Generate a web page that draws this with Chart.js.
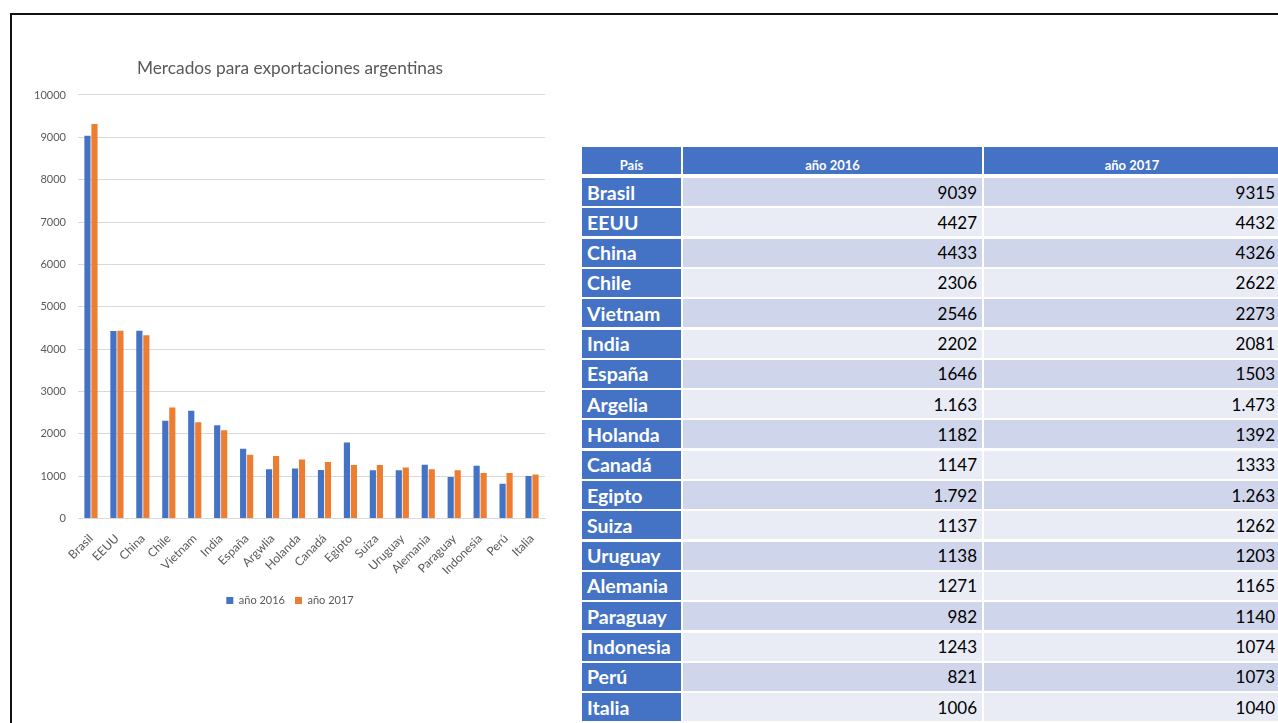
<!DOCTYPE html>
<html>
<head>
<meta charset="utf-8">
<script src="https://cdn.jsdelivr.net/npm/chart.js@4.4.1/dist/chart.umd.min.js"></script>
<style>
  html, body { margin: 0; padding: 0; background: #fff; width: 1278px; height: 723px; overflow: hidden; }
  #frame { position: absolute; left: 10px; top: 13px; width: 1400px; height: 800px;
           border-left: 2px solid #111; border-top: 2px solid #111; }
  #chartBox { position: absolute; left: 0; top: 0; width: 570px; height: 616px; }
  .cell { position: absolute; box-sizing: border-box; font-family: Lato, "Noto Sans", sans-serif;
          white-space: nowrap; overflow: hidden; }
  .hdr { background: #4472C4; color: #fff; font-weight: bold; font-size: 13px; text-align: center;
         display: flex; align-items: flex-end; justify-content: center; padding-bottom: 1px; }
  .name { background: #4472C4; color: #fff; font-weight: bold; font-size: 19.5px;
          display: flex; align-items: center; padding-left: 5px; }
  .num { color: #000; font-size: 17px; display: flex; align-items: center; justify-content: flex-end; padding-right: 5px; }
  .odd { background: #CFD5EA; }
  .even { background: #E9EBF5; }
</style>
</head>
<body>
<div id="frame"></div>
<div id="chartBox"><canvas id="c" width="570" height="616"></canvas></div>
<div id="table"></div>
<script>
// ---- data ----
const chartTitle = 'Mercados para exportaciones argentinas';
const categories = ['Brasil','EEUU','China','Chile','Vietnam','India','España','Argwlia','Holanda','Canadá','Egipto','Suiza','Uruguay','Alemania','Paraguay','Indonesia','Perú','Italia'];
const tableNames = ['Brasil','EEUU','China','Chile','Vietnam','India','España','Argelia','Holanda','Canadá','Egipto','Suiza','Uruguay','Alemania','Paraguay','Indonesia','Perú','Italia'];
const seriesNames = ['año 2016','año 2017'];
const values2016 = [9039,4427,4433,2306,2546,2202,1646,1163,1182,1147,1792,1137,1138,1271,982,1243,821,1006];
const values2017 = [9315,4432,4326,2622,2273,2081,1503,1473,1392,1333,1263,1262,1203,1165,1140,1074,1073,1040];
const text2016 = ['9039','4427','4433','2306','2546','2202','1646','1.163','1182','1147','1.792','1137','1138','1271','982','1243','821','1006'];
const text2017 = ['9315','4432','4326','2622','2273','2081','1503','1.473','1392','1333','1.263','1262','1203','1165','1140','1074','1073','1040'];
const tableHeader = ['País','año 2016','año 2017'];
const yTicks = [0,1000,2000,3000,4000,5000,6000,7000,8000,9000,10000];

// ---- table ----
(function buildTable(){
  const t = document.getElementById('table');
  const cols = [[582, 99], [683, 299], [984, 296]];
  function add(cls, x, y, w, h, txt) {
    const d = document.createElement('div');
    d.className = 'cell ' + cls;
    d.style.left = x + 'px'; d.style.top = y + 'px';
    d.style.width = w + 'px'; d.style.height = h + 'px';
    d.textContent = txt;
    t.appendChild(d);
  }
  tableHeader.forEach((h, i) => add('hdr', cols[i][0], 147, cols[i][1], 27, h));
  tableNames.forEach((n, r) => {
    const y = 178 + r * 30.3;
    const band = r % 2 === 0 ? 'odd' : 'even';
    add('name', cols[0][0], y, cols[0][1], 28, n);
    add('num ' + band, cols[1][0], y, cols[1][1], 28, text2016[r]);
    add('num ' + band, cols[2][0], y, cols[2][1], 28, text2017[r]);
  });
})();

// ---- chart ----
function draw() {
  const gray = '#595959';
  new Chart(document.getElementById('c'), {
    type: 'bar',
    data: {
      labels: categories,
      datasets: [
        { label: seriesNames[0], data: values2016, backgroundColor: '#4472C4',
          categoryPercentage: 0.54, barPercentage: 0.88 },
        { label: seriesNames[1], data: values2017, backgroundColor: '#ED7D31',
          categoryPercentage: 0.54, barPercentage: 0.88 }
      ]
    },
    options: {
      responsive: false,
      animation: false,
      devicePixelRatio: 1,
      layout: { padding: { left: 35, right: 25, top: 0, bottom: 0 } },
      plugins: {
        title: { display: true, text: chartTitle, color: gray,
                 font: { family: 'Lato', size: 17.3, weight: 'normal' },
                 padding: { top: 57.6, bottom: 16.6 } },
        legend: { position: 'bottom',
                  labels: { boxWidth: 7, boxHeight: 7, padding: 10, color: gray,
                            font: { family: 'Lato', size: 11 } } },
        tooltip: { enabled: false }
      },
      scales: {
        x: {
          grid: { display: false, drawTicks: false },
          border: { display: true, color: '#D9D9D9' },
          ticks: { color: gray, font: { family: 'Lato', size: 12 }, minRotation: 45, maxRotation: 45,
                   autoSkip: false, padding: 13 },
          afterFit: s => { s.height = 66.5; }
        },
        y: {
          min: 0, max: 10000,
          afterBuildTicks: s => { s.ticks = yTicks.map(v => ({ value: v })); },
          grid: { color: '#D9D9D9', drawTicks: false },
          border: { display: false },
          ticks: { color: gray, font: { family: 'Lato', size: 11 }, padding: 12,
                   callback: v => String(v) },
          afterFit: s => { s.width = 43; }
        }
      }
    }
  });
}
if (document.fonts && document.fonts.load) {
  Promise.all([document.fonts.load('16px Lato'), document.fonts.load('bold 16px Lato')]).then(draw, draw);
} else { draw(); }
</script>
</body>
</html>
